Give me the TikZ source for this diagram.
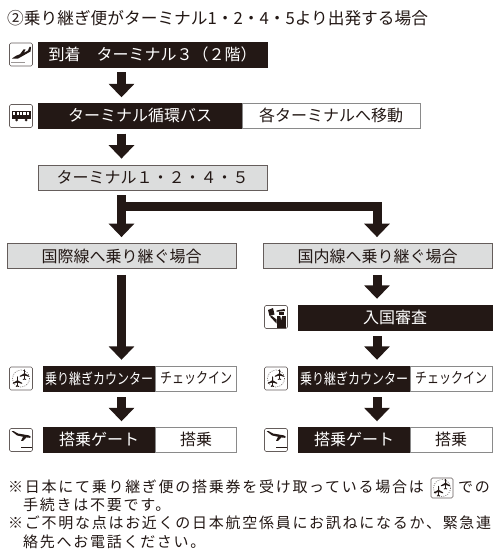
\documentclass[tikz,border=0pt]{standalone}
\usepackage{fontspec}
\usetikzlibrary{arrows.meta}
\setmainfont{Noto Sans CJK JP}
\definecolor{ink}{HTML}{231815}
\definecolor{pale}{HTML}{DCDDDD}
\definecolor{edge}{HTML}{8A8A8A}
\newcommand{\sz}[1]{\fontsize{#1}{#1}\selectfont}
\newcommand{\narrow}[1]{\scalebox{.8}[1]{#1}}
\tikzset{
 x=1pt,y=-1pt,
 boxbase/.style={inner sep=0pt,minimum height=25pt,text=ink,font=\sz{16}},
 blackbox/.style={boxbase,fill=ink,text=white,draw=ink,line width=.4pt},
 whitebox/.style={boxbase,fill=white,draw=edge,line width=.7pt},
 greybox/.style={boxbase,fill=pale,draw=ink!70,line width=.8pt},
 iconbox/.style={draw=ink!70,fill=white,line width=.6pt,rounded corners=1.5pt,minimum width=23pt,minimum height=23pt,inner sep=0pt},
 flow/.style={draw=ink,line width=9pt,-{Triangle[length=13.5pt,width=25pt]}},
 txt/.style={inner sep=0pt,anchor=west,text=ink,font=\sz{15}\addfontfeature{LetterSpace=11.5}},
}
\newcommand{\topplane}[2]{% plane seen from above, nose up
 \begin{scope}[shift={(#1)},scale=#2]
  \fill[ink] (-.8,-8) .. controls (-.6,-9.5) and (.6,-9.5) .. (.8,-8) -- (.8,-2.5) -- (7.5,1.5) -- (7.5,3) -- (.8,1) -- (.6,5.5) -- (2.8,7) -- (2.8,8) -- (0,7.2) -- (-2.8,8) -- (-2.8,7) -- (-.6,5.5) -- (-.8,1) -- (-7.5,3) -- (-7.5,1.5) -- (-.8,-2.5) -- cycle;
 \end{scope}}
\newcommand{\transiticon}[1]{%
 \begin{scope}[shift={(#1)}]
  \draw[ink!80,line width=.6pt,dash pattern=on .8pt off 1.4pt] (0,0) circle (8.5);
  \topplane{3.5,-3.5}{.62}
  \topplane{-3.5,3.5}{.62}
 \end{scope}}
\newcommand{\arrivalicon}[1]{%
 \begin{scope}[shift={(#1)}]
  \fill[ink] (-9,4.5) -- (-5,1.8) -- (-1,.2) -- (2.5,-4.5) -- (4.5,-4.5) -- (3,-1.2) -- (7,-3.5) -- (8.5,-7) -- (10,-7) -- (9.5,-2.5) -- (-3,4.6) -- cycle;
  \fill[ink!45] (-10,7.8) rectangle (4,9);
 \end{scope}}
\newcommand{\departicon}[1]{%
 \begin{scope}[shift={(#1)}]
  \fill[ink] (-9.5,-9) -- (-7.5,-9) -- (-3,-6.5) -- (8,-4.6) -- (10,-3) -- (8.5,-2.2) -- (5.5,-2.6) -- (2,.8) -- (0,.8) -- (2,-3.2) -- (-4,-4.6) -- cycle;
  \fill[ink] (0,7) rectangle (10.5,7.9);
 \end{scope}}
\begin{document}
\begin{tikzpicture}
\useasboundingbox (0,0) rectangle (500,559);
\fill[white] (0,0) rectangle (500,559);
\coordinate (cl) at (121.5,0);
\coordinate (cr) at (377,0);

\node[txt,font=\sz{16.7}] (title) at (7,18) {②乗り継ぎ便がターミナル1・2・4・5より出発する場合};

\node[blackbox,minimum width=229pt] (arrive) at (152.5,54.5) {到着　ターミナル３（２階）};
\node[blackbox,minimum width=204pt] (bus) at (140,115.5) {ターミナル循環バス};
\node[whitebox,minimum width=178pt] (move) at (331,115.5) {各ターミナルへ移動};
\node[greybox,minimum width=229pt] (term) at (152.5,177.5) {ターミナル１・２・４・５};
\node[greybox,minimum width=229pt] (intl) at (121.5,256) {国際線へ乗り継ぐ場合};
\node[greybox,minimum width=229pt] (dom) at (377.5,256) {国内線へ乗り継ぐ場合};
\node[blackbox,minimum width=194pt] (imm) at (395,317.5) {入国審査};

\node[blackbox,minimum width=112pt,font=\sz{15}] (cntl) at (99,378.5) {\narrow{乗り継ぎカウンター}};
\node[whitebox,minimum width=81pt,font=\sz{15}] (chkl) at (196,378.5) {\narrow{チェックイン}};
\node[blackbox,minimum width=112pt] (gatel) at (99,439.5) {搭乗ゲート};
\node[whitebox,minimum width=81pt] (brdl) at (196,439.5) {搭乗};
\node[blackbox,minimum width=112pt,font=\sz{15}] (cntr) at (354,378.5) {\narrow{乗り継ぎカウンター}};
\node[whitebox,minimum width=82pt,font=\sz{15}] (chkr) at (451,378.5) {\narrow{チェックイン}};
\node[blackbox,minimum width=112pt] (gater) at (354,439.5) {搭乗ゲート};
\node[whitebox,minimum width=82pt] (brdr) at (451,439.5) {搭乗};

% connectors
\draw[flow,shorten <=5pt,shorten >=5.5pt] (arrive.south -| cl) -- (bus.north -| cl);
\draw[flow,shorten <=5.5pt,shorten >=6pt] (bus.south -| cl) -- (term.north -| cl);
\draw[flow,shorten <=5pt,shorten >=6pt] (term.south -| cl) -- (intl.north -| cl);
\coordinate (fork) at (121.5,206);
\draw[flow,shorten >=6pt] (fork) -- (fork -| cr) -- (dom.north -| cr);
\draw[flow,shorten <=6pt,shorten >=6pt] (intl.south -| cl) -- (cntl.north -| cl);
\draw[flow,shorten <=6pt,shorten >=6pt] (dom.south -| cr) -- (imm.north -| cr);
\draw[flow,shorten <=6pt,shorten >=6pt] (imm.south -| cr) -- (cntr.north -| cr);
\draw[flow,shorten <=6pt,shorten >=5.5pt] (cntl.south -| cl) -- (gatel.north -| cl);
\draw[flow,shorten <=6pt,shorten >=5.5pt] (cntr.south -| cr) -- (gater.north -| cr);

% icons
\node[iconbox] (icarr) at (21,54.5) {};
\arrivalicon{21,54}
\node[iconbox] (icbus) at (21,116) {};
\fill[ink] (12,111) rectangle (30.5,112);
\foreach \wx in {12,15.4,18.8,22.2,25.6,29.3} \fill[ink] (\wx,112) rectangle ++(1.2,3);
\fill[ink] (12,115) -- (30.5,115) -- (30.5,119.5) -- (12,119.5) -- cycle;
\fill[ink] (16.5,120) circle (1.5) (26,120) circle (1.5);
\node[iconbox] (icimm) at (276,317) {};
\fill[ink] (276.5,310.5) -- (284.5,309) -- (285,311) -- (276.5,311.8) -- cycle;
\fill[ink] (278.5,312) rectangle (283.5,315.2);
\fill[ink] (276.5,316) rectangle (285.5,327.5);
\fill[white] (280.3,316) -- (282,316) -- (281.2,320) -- cycle;
\fill[ink] (268,310) -- (273,308) -- (274.5,314.5) -- (269.5,316) -- cycle;
\fill[ink] (270,316.5) -- (272,316) -- (276.5,319.5) -- (276.5,323.5) -- cycle;
\node[iconbox] (ictl) at (21,378.5) {};
\transiticon{21,378.5}
\node[iconbox] (ictr) at (276,378.5) {};
\transiticon{276,378.5}
\node[iconbox] (icdl) at (21,440) {};
\departicon{21,440}
\node[iconbox] (icdr) at (276,440) {};
\departicon{276,440}

% notes
\node[txt] (n1) at (8,487) {※日本にて乗り継ぎ便の搭乗券を受け取っている場合は};
\node[iconbox,minimum width=22pt,minimum height=20pt] (icnote) at (442,488) {};
\transiticon{442,488}
\node[txt] (n1b) at (458,487) {での};
\node[txt] (n2) at (23,505) {手続きは不要です。};
\node[txt] (n3) at (8,523) {※ご不明な点はお近くの日本航空係員にお訊ねになるか、緊急連};
\node[txt] (n4) at (23,541.5) {絡先へお電話ください。};
\end{tikzpicture}
\end{document}
